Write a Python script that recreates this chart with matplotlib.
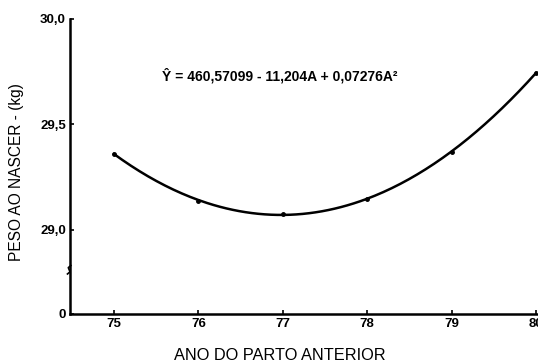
import numpy as np
import matplotlib
matplotlib.use("Agg")
import matplotlib.pyplot as plt

# Data
years = [75, 76, 77, 78, 79, 80]
weights = [29.36, 29.137, 29.076, 29.147, 29.367, 29.746]
ytick_vals = [28.60, 29.0, 29.5, 30.0]
ytick_labels = ["0", "29,0", "29,5", "30,0"]
xtick_labels = ["75", "76", "77", "78", "79", "80"]
equation = "Ŷ = 460,57099 - 11,204A + 0,07276A²"

plt.rcParams['font.family'] = ['Liberation Sans', 'DejaVu Sans']

fig = plt.figure(figsize=(5.38, 3.63), dpi=100)
W, H = 538, 363
left_px, right_px, top_px, bot_px = 70, 538, 19, 314
ax = fig.add_axes([left_px / W, 1 - bot_px / H, (right_px - left_px) / W, (bot_px - top_px) / H])

# smooth fitted curve through read points
coef = np.polyfit(years, weights, 2)
xs = np.linspace(years[0], years[-1], 200)
ax.plot(xs, np.polyval(coef, xs), color='black', lw=1.8, clip_on=False)
ax.plot(years, weights, 'o', color='black', ms=2.5, clip_on=False)

ax.set_xlim(74.479, 80.024)
ax.set_ylim(28.60, 30.0)
ax.set_xticks(years)
ax.set_xticklabels(xtick_labels, fontweight='bold', fontsize=9.5)
ax.set_yticks(ytick_vals)
ax.set_yticklabels(ytick_labels, fontweight='bold', fontsize=9.5)
ax.tick_params(direction='in', length=3, width=1.2, pad=3)
for s in ['top', 'right']:
    ax.spines[s].set_visible(False)
for s in ['left', 'bottom']:
    ax.spines[s].set_linewidth(1.8)

# axis break mark on y axis
bx = 74.479
ax.plot([bx - 0.03, bx, bx - 0.02, bx + 0.01], [28.79, 28.80, 28.82, 28.83],
        color='black', lw=1.2, clip_on=False)

ax.text(75.57, 29.73, equation, fontsize=10, fontweight='bold', va='center', ha='left')

fig.text(17 / W, 1 - 172 / H, "PESO AO NASCER - (kg)", rotation=90, fontsize=11.2,
         ha='center', va='center')
fig.text(280 / W, 1 - 355 / H, "ANO DO PARTO ANTERIOR", fontsize=11.8,
         ha='center', va='center')

fig.savefig("out.png", dpi=100)
